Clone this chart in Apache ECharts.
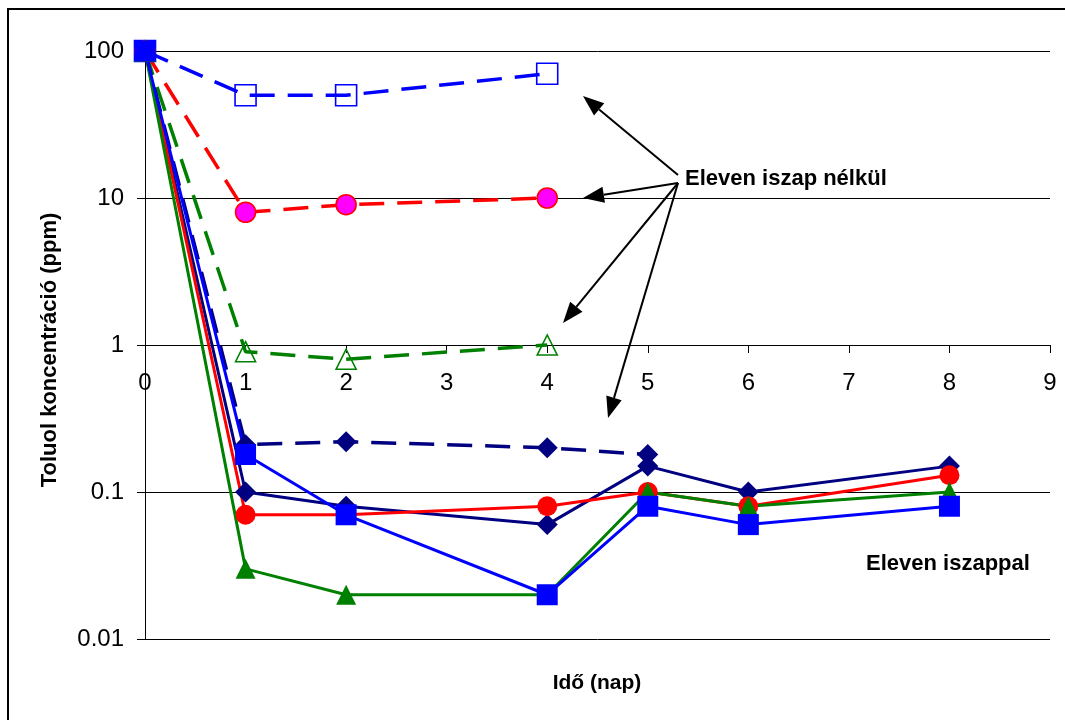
<!DOCTYPE html>
<html>
<head>
<meta charset="utf-8">
<script src="https://cdn.jsdelivr.net/npm/echarts@6/dist/echarts.min.js"></script>
<style>
html,body{margin:0;padding:0;background:#fff;}
#chart{width:1065px;height:720px;}
</style>
</head>
<body>
<div id="chart"></div>
<script>
// ---- data ----
const daysShort = [0, 1, 2, 4];
const daysNavyDashed = [0, 1, 2, 4, 5];
const daysLong = [0, 1, 2, 4, 5, 6, 8];

// without activated sludge (dashed)
const noSludgeBlue  = [100, 50, 50, 70];
const noSludgeRed   = [100, 8, 9, 10];
const noSludgeGreen = [100, 0.9, 0.8, 1];
const noSludgeNavy  = [100, 0.21, 0.22, 0.2, 0.18];

// with activated sludge (solid)
const sludgeNavy  = [100, 0.1, 0.08, 0.06, 0.15, 0.1, 0.15];
const sludgeRed   = [100, 0.07, 0.07, 0.08, 0.1, 0.08, 0.13];
const sludgeGreen = [100, 0.03, 0.02, 0.02, 0.1, 0.08, 0.1];
const sludgeBlue  = [100, 0.18, 0.07, 0.02, 0.08, 0.06, 0.08];

const yTickLabels = ['0.01', '0.1', '1', '10', '100'];
const xTickLabels = ['0', '1', '2', '3', '4', '5', '6', '7', '8', '9'];

const yAxisTitle = 'Toluol koncentráció (ppm)';
const xAxisTitle = 'Idő (nap)';
const noteWithout = 'Eleven iszap nélkül';
const noteWith = 'Eleven iszappal';

// ---- build ----
const FONT = '"Liberation Sans", Arial, sans-serif';
const pairs = (xs, ys) => xs.map((x, i) => [x, ys[i]]);

function mkSeries(name, xs, ys, color, dashed, symbol, size, fill, borderColor) {
  return {
    name: name,
    type: 'line',
    xAxisIndex: 0, yAxisIndex: 0,
    data: pairs(xs, ys),
    showSymbol: true,
    symbol: symbol,
    symbolSize: size,
    lineStyle: { color: color, width: dashed ? 3.5 : 3, type: dashed ? [25, 13] : 'solid' },
    itemStyle: { color: fill, borderColor: borderColor || fill, borderWidth: borderColor ? 1.6 : 0, opacity: 1 },
    emphasis: { disabled: true },
    animation: false
  };
}

const series = [
  mkSeries('nb', daysShort, noSludgeBlue, '#0000FF', true, 'rect', 21, 'rgba(0,0,0,0)', '#0000FF'),
  mkSeries('nr', daysShort, noSludgeRed, '#FF0000', true, 'circle', 20, '#FF00FF', '#FF0000'),
  mkSeries('ng', daysShort, noSludgeGreen, '#008000', true, 'triangle', 20, 'rgba(0,0,0,0)', '#008000'),
  mkSeries('nn', daysNavyDashed, noSludgeNavy, '#000080', true, 'diamond', 21, '#000080'),
  mkSeries('sn', daysLong, sludgeNavy, '#000080', false, 'diamond', 21, '#000080'),
  mkSeries('sr', daysLong, sludgeRed, '#FF0000', false, 'circle', 20, '#FF0000'),
  mkSeries('sg', daysLong, sludgeGreen, '#008000', false, 'triangle', 20, '#008000'),
  mkSeries('sb', daysLong, sludgeBlue, '#0000FF', false, 'rect', 21, '#0000FF')
];

// annotation arrows (pixel layout of the annotation, not data marks)
const arrowDefs = [
  { from: [678, 175], to: [583, 96] },
  { from: [678, 183], to: [583, 198] },
  { from: [678, 183], to: [563, 323] },
  { from: [678, 183], to: [608, 418] }
];
const graphics = [];
graphics.push({ type: 'rect', shape: { x: 8, y: 9, width: 1100, height: 800 }, style: { fill: 'none', stroke: '#000', lineWidth: 2 }, z: 100 });
arrowDefs.forEach(a => {
  const dx = a.to[0] - a.from[0], dy = a.to[1] - a.from[1];
  const L = Math.sqrt(dx * dx + dy * dy);
  const ux = dx / L, uy = dy / L;
  const headLen = 21, headW = 8;
  const bx = a.to[0] - ux * headLen, by = a.to[1] - uy * headLen;
  graphics.push({ type: 'line', shape: { x1: a.from[0], y1: a.from[1], x2: bx, y2: by }, style: { stroke: '#000', lineWidth: 2 }, z: 100 });
  graphics.push({ type: 'polygon', shape: { points: [[a.to[0], a.to[1]], [bx - uy * headW, by + ux * headW], [bx + uy * headW, by - ux * headW]] }, style: { fill: '#000' }, z: 100 });
});
graphics.push({ type: 'text', x: 685, y: 179, style: { text: noteWithout, font: 'bold 22px ' + FONT, fill: '#000', align: 'left', verticalAlign: 'middle', textAlign: 'left', textVerticalAlign: 'middle' }, z: 100 });
graphics.push({ type: 'text', x: 866, y: 564, style: { text: noteWith, font: 'bold 22px ' + FONT, fill: '#000', align: 'left', verticalAlign: 'middle', textAlign: 'left', textVerticalAlign: 'middle' }, z: 100 });
graphics.push({ type: 'text', x: 597, y: 683, style: { text: xAxisTitle, font: 'bold 21px ' + FONT, fill: '#000', align: 'center', verticalAlign: 'middle', textAlign: 'center', textVerticalAlign: 'middle' }, z: 100 });
graphics.push({ type: 'text', x: 50, y: 350, rotation: Math.PI / 2, style: { text: yAxisTitle, font: 'bold 22px ' + FONT, fill: '#000', align: 'center', verticalAlign: 'middle', textAlign: 'center', textVerticalAlign: 'middle' }, z: 100 });

const option = {
  backgroundColor: '#ffffff',
  animation: false,
  grid: [
    { left: 145, right: 15, top: 51, bottom: 81, containLabel: false },
    { left: 145, right: 15, top: 344, height: 1, containLabel: false }
  ],
  xAxis: [
    { type: 'value', gridIndex: 0, min: 0, max: 9, interval: 1, show: false, splitLine: { show: false } },
    {
      type: 'value', gridIndex: 1, min: 0, max: 9, interval: 1, position: 'bottom',
      axisLine: { show: true, lineStyle: { color: '#000', width: 1 } },
      axisTick: { show: true, inside: false, length: 8, lineStyle: { color: '#000', width: 1 } },
      axisLabel: { show: true, color: '#000', fontSize: 24, fontFamily: FONT, margin: 26,
        formatter: v => xTickLabels[Math.round(v)] },
      splitLine: { show: false }
    }
  ],
  yAxis: [
    {
      type: 'log', gridIndex: 0, logBase: 10, min: 0.01, max: 100,
      axisLine: { show: true, lineStyle: { color: '#000', width: 1 } },
      axisTick: { show: true, inside: false, length: 8, lineStyle: { color: '#000' } },
      axisLabel: { color: '#000', fontSize: 24, fontFamily: FONT, margin: 21,
        formatter: v => { const e = Math.round(Math.log10(v)); return yTickLabels[e + 2]; } },
      splitLine: { show: true, lineStyle: { color: '#000', width: 1 } },
      minorTick: { show: false }
    },
    { type: 'value', gridIndex: 1, show: false, min: 0, max: 1 }
  ],
  series: series,
  graphic: graphics
};

const chart = echarts.init(document.getElementById('chart'), null, { renderer: 'canvas' });
chart.setOption(option);
</script>
</body>
</html>
